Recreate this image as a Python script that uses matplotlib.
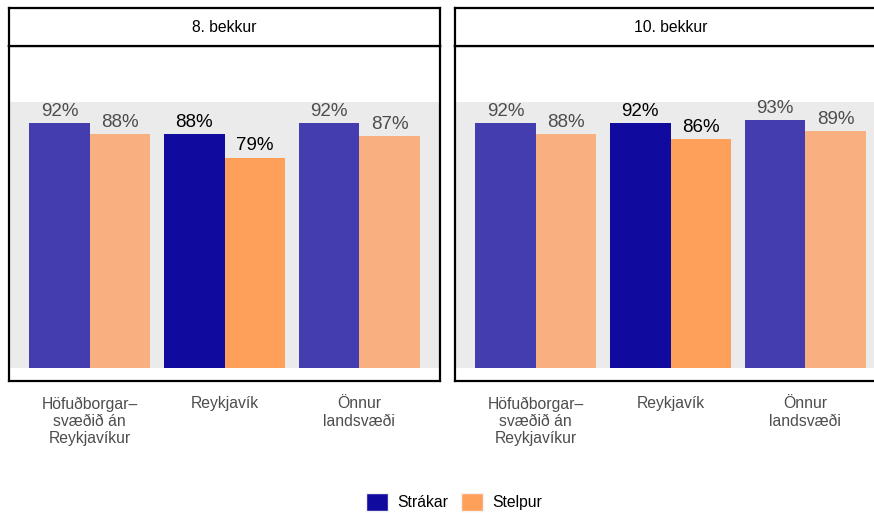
import matplotlib
matplotlib.use('Agg')
import matplotlib.pyplot as plt
from matplotlib.patches import Patch
import numpy as np

plt.rcParams['font.family'] = ['Liberation Sans', 'DejaVu Sans']

# data
facets = ['8. bekkur', '10. bekkur']
regions = ['Höfuðborgar–\nsvæðið án\nReykjavíkur', 'Reykjavík', 'Önnur\nlandsvæði']
boys = {'8. bekkur': [0.92, 0.88, 0.92], '10. bekkur': [0.92, 0.92, 0.93]}
girls = {'8. bekkur': [0.88, 0.79, 0.87], '10. bekkur': [0.88, 0.86, 0.89]}
highlight = 'Reykjavík'

boy_dark, boy_light = '#100A9E', '#443DB0'
girl_dark, girl_light = '#FFA05A', '#F9B081'

W, H = 874, 513
fig = plt.figure(figsize=(W / 100, H / 100), dpi=100)

def px(x0, y0, x1, y1):
    return [x0 / W, 1 - y1 / H, (x1 - x0) / W, (y1 - y0) / H]

# right panel runs off the edge of the picture, as in the original
panels = [(9, 440), (455, 886)]
for (x0, x1), facet in zip(panels, facets):
    ax = fig.add_axes(px(x0, 46, x1, 381))
    strip = fig.add_axes(px(x0, 8, x1, 46))
    strip.set_xticks([]); strip.set_yticks([])
    for s in strip.spines.values():
        s.set_linewidth(1.6)
    strip.text(0.5, 0.5, facet, ha='center', va='center', fontsize=11.3, transform=strip.transAxes)

    x = np.arange(len(regions))
    w = 0.45
    ax.axhspan(0, 1, color='#EBEBEB', zorder=0, lw=0)
    for i, r in enumerate(regions):
        hl = r == highlight
        bc = boy_dark if hl else boy_light
        gc = girl_dark if hl else girl_light
        tc = 'black' if hl else '#4D4D4D'
        b = boys[facet][i]
        g = girls[facet][i]
        ax.bar(x[i] - w / 2, b, w, color=bc, zorder=2)
        ax.bar(x[i] + w / 2, g, w, color=gc, zorder=2)
        ax.text(x[i] - w / 2, b + 0.012, f'{b*100:.0f}%', ha='center', va='bottom', fontsize=13.5, color=tc)
        ax.text(x[i] + w / 2, g + 0.012, f'{g*100:.0f}%', ha='center', va='bottom', fontsize=13.5, color=tc)
    ax.set_xlim(-0.6, 2.6)
    ax.set_ylim(-0.05, 1.21)
    ax.set_yticks([])
    ax.set_xticks(x)
    ax.set_xticklabels(regions, fontsize=11.3, color='#4D4D4D', linespacing=1.2)
    ax.tick_params(axis='x', length=0, pad=11)
    for s in ax.spines.values():
        s.set_linewidth(1.6)

handles = [Patch(facecolor=boy_dark, edgecolor='#F2F2F2', label='Strákar'),
           Patch(facecolor=girl_dark, edgecolor='#F2F2F2', label='Stelpur')]
fig.legend(handles=handles, loc='center', bbox_to_anchor=(454 / W, 1 - 502 / H), ncol=2,
           frameon=False, fontsize=11.3, handlelength=1.4, handleheight=1.4,
           handletextpad=0.6, columnspacing=0.8)

fig.savefig('out.png', dpi=100)
